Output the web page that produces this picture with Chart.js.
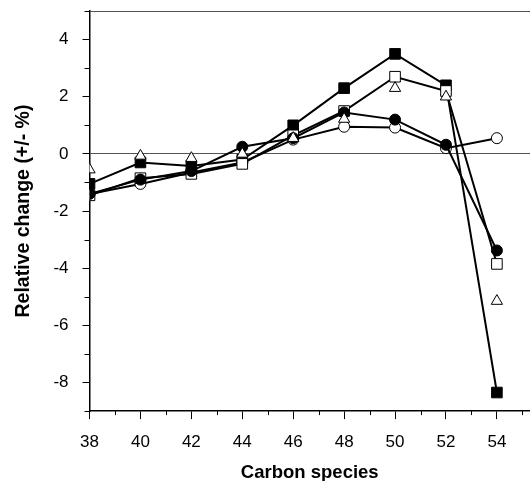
<!DOCTYPE html>
<html>
<head>
<meta charset="utf-8">
<script src="https://cdn.jsdelivr.net/npm/chart.js@4.4.1/dist/chart.umd.min.js"></script>
<style>
    html, body { margin: 0; padding: 0; background: #fff; overflow: hidden; }
    #wrap { width: 530px; height: 481px; position: relative; }
</style>
</head>
<body>
<div id="wrap"><canvas id="lineChart"></canvas></div>
<script>
// carbon number of the species
const carbon = [38, 40, 42, 44, 46, 48, 50, 52, 54];

// relative change (+/- %) per marker type
const filledSquare = [-1.05, -0.3, -0.42, -0.2, 1.0, 2.3, 3.5, 2.4, -8.35];
const openSquare = [-1.45, -0.85, -0.7, -0.35, 0.65, 1.5, 2.7, 2.2, -3.85];
const filledCircle = [-1.4, -0.9, -0.6, 0.25, 0.55, 1.45, 1.2, 0.32, -3.38];
const openCircle = [-1.4, -1.05, -0.65, -0.3, 0.5, 0.95, 0.92, 0.2, 0.55];
const openTriangle = [-0.55, -0.07, -0.15, 0.0, 0.55, 1.22, 2.3, 2.0, -5.15];

const xTicks = [38, 40, 42, 44, 46, 48, 50, 52, 54];
const yTicks = [-8, -6, -4, -2, 0, 2, 4];

function pts(vals) {
    return vals.map(function (v, i) { return { x: carbon[i], y: v }; });
}

// short minor tick marks on the odd values
const minorTicks = {
    id: 'minorTicks',
    afterDraw(chart) {
        const ctx = chart.ctx;
        const xs = chart.scales.x;
        const ys = chart.scales.y;
        ctx.save();
        ctx.strokeStyle = '#000';
        ctx.lineWidth = 1;
        ctx.beginPath();
        for (let v = 39; v <= 55; v += 2) {
            const px = Math.round(xs.getPixelForValue(v)) + 0.5;
            ctx.moveTo(px, ys.bottom);
            ctx.lineTo(px, ys.bottom + 4);
        }
        for (let v = -9; v <= 5; v += 2) {
            const py = Math.round(ys.getPixelForValue(v)) + 0.5;
            ctx.moveTo(xs.left, py);
            ctx.lineTo(xs.left - 5, py);
        }
        ctx.stroke();
        ctx.restore();
    }
};

const ctx = document.getElementById('lineChart').getContext('2d');

const myChart = new Chart(ctx, {
    type: 'line',
    data: {
        datasets: [
            {
                label: 'triangle',
                data: pts(openTriangle),
                showLine: false,
                pointStyle: 'triangle',
                pointRadius: 6.5,
                backgroundColor: '#fff',
                borderColor: '#000',
                pointBorderWidth: 1
            },
            {
                label: 'filled circle',
                data: pts(filledCircle),
                pointStyle: 'circle',
                pointRadius: 5.5,
                backgroundColor: '#000',
                borderColor: '#000',
                borderWidth: 2,
                pointBorderWidth: 1
            },
            {
                label: 'open square',
                data: pts(openSquare),
                pointStyle: 'rect',
                pointRadius: 7.5,
                backgroundColor: '#fff',
                borderColor: '#000',
                borderWidth: 2,
                pointBorderWidth: 1
            },
            {
                label: 'filled square',
                data: pts(filledSquare),
                pointStyle: 'rect',
                pointRadius: 7.5,
                backgroundColor: '#000',
                borderColor: '#000',
                borderWidth: 2,
                pointBorderWidth: 1
            },
            {
                label: 'open circle',
                data: pts(openCircle),
                pointStyle: 'circle',
                pointRadius: 5.5,
                backgroundColor: '#fff',
                borderColor: '#000',
                borderWidth: 2,
                pointBorderWidth: 1
            }
        ]
    },
    options: {
        responsive: true,
        maintainAspectRatio: false,
        animation: false,
        layout: {
            autoPadding: false,
            padding: { left: 12, right: 0, top: 11, bottom: -3 }
        },
        scales: {
            x: {
                type: 'linear',
                min: 38,
                max: 55.3,
                afterFit: function (s) { s.paddingLeft = 0; s.paddingRight = 0; },
                border: { color: '#000', width: 1.5 },
                grid: {
                    drawOnChartArea: false,
                    tickLength: 8,
                    tickColor: function (c) {
                        return xTicks.includes(c.tick.value) ? '#000' : 'rgba(0,0,0,0)';
                    }
                },
                ticks: {
                    stepSize: 1,
                    autoSkip: false,
                    maxRotation: 0,
                    padding: 13,
                    color: '#000',
                    font: { family: 'Liberation Sans', size: 17 },
                    callback: function (v) {
                        return xTicks.includes(v) ? String(v) : '';
                    }
                },
                title: {
                    display: true,
                    text: 'Carbon species',
                    color: '#000',
                    font: { family: 'Liberation Sans', size: 18.5, weight: 'bold', lineHeight: 1.0 },
                    padding: { top: -2, bottom: 2 }
                }
            },
            y: {
                min: -9,
                max: 5,
                afterFit: function (s) { s.paddingTop = 0; s.paddingBottom = 0; },
                border: { color: '#000', width: 1.5 },
                grid: {
                    drawOnChartArea: true,
                    tickLength: 7,
                    color: function (c) {
                        return (c.tick.value === 0 || c.tick.value === 5) ? '#555' : 'rgba(0,0,0,0)';
                    },
                    tickColor: function (c) {
                        return yTicks.includes(c.tick.value) ? '#000' : 'rgba(0,0,0,0)';
                    }
                },
                ticks: {
                    stepSize: 1,
                    autoSkip: false,
                    padding: 14,
                    color: '#000',
                    font: { family: 'Liberation Sans', size: 17 },
                    callback: function (v) {
                        return yTicks.includes(v) ? String(v) : '';
                    }
                },
                title: {
                    display: true,
                    text: 'Relative change (+/- %)',
                    color: '#000',
                    font: { family: 'Liberation Sans', size: 19.5, weight: 'bold' },
                    padding: { top: 0, bottom: 4 }
                }
            }
        },
        plugins: {
            legend: { display: false },
            tooltip: { enabled: false }
        }
    },
    plugins: [minorTicks]
});
</script>
</body>
</html>
